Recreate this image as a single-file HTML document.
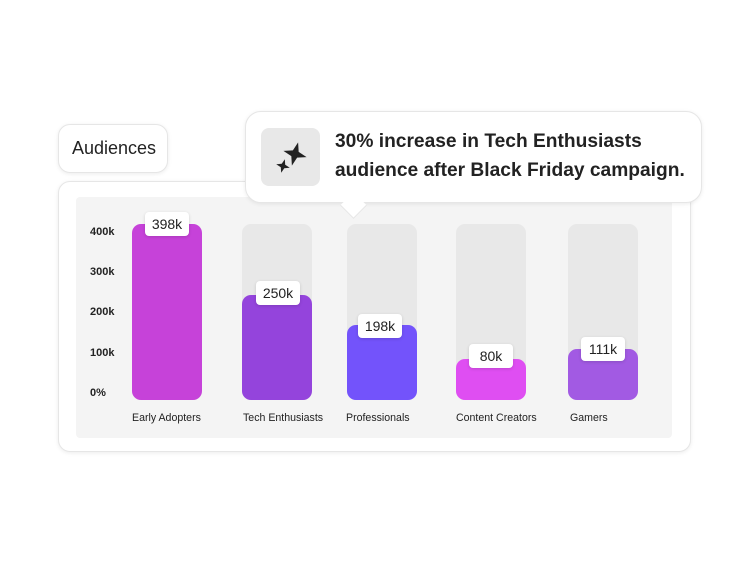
<!DOCTYPE html>
<html><head><style>
body{margin:0;width:750px;height:563px;background:#fff;position:relative;font-family:"Liberation Sans",sans-serif;overflow:hidden}
.a{position:absolute}
.card{border:1px solid #e6e6e6;box-shadow:0 1px 4px rgba(0,0,0,.08);background:#fff}
.track{position:absolute;width:70px;top:224px;height:176px;background:#e8e8e8;border-radius:9px}
.bar{position:absolute;width:70px;bottom:163px;border-radius:9px}
.lbl{position:absolute;width:44px;height:24px;background:#fff;border-radius:4px;box-shadow:0 1px 3px rgba(0,0,0,.15);font-size:14px;line-height:24px;text-align:center;color:#222}
.y{position:absolute;left:90px;font-size:11px;color:#222;font-weight:bold}
.x{position:absolute;top:412px;font-size:10.6px;color:#222}
</style></head><body>
<div class="a card" style="left:58px;top:124px;width:108px;height:47px;border-radius:12px"></div>
<div class="a" style="left:72px;top:138px;font-size:18px;color:#222">Audiences</div>
<div class="a card" style="left:58px;top:181px;width:631px;height:269px;border-radius:12px"></div>
<div class="a" style="left:76px;top:197px;width:596px;height:241px;background:#f4f4f4;border-radius:4px"></div>
<div class="y" style="top:226px">400k</div>
<div class="y" style="top:266px">300k</div>
<div class="y" style="top:306px">200k</div>
<div class="y" style="top:347px">100k</div>
<div class="y" style="top:387px">0%</div>
<div class="track" style="left:132px"></div><div class="bar" style="left:132px;top:224px;background:#c642d9"></div>
<div class="track" style="left:242px"></div><div class="bar" style="left:242px;top:295px;background:#9444dc"></div>
<div class="track" style="left:347px"></div><div class="bar" style="left:347px;top:325px;background:#7353fb"></div>
<div class="track" style="left:456px"></div><div class="bar" style="left:456px;top:359px;background:#df4ef2"></div>
<div class="track" style="left:568px"></div><div class="bar" style="left:568px;top:349px;background:#a25ae3"></div>
<div class="lbl" style="left:145px;top:212px">398k</div>
<div class="lbl" style="left:256px;top:281px">250k</div>
<div class="lbl" style="left:358px;top:314px">198k</div>
<div class="lbl" style="left:469px;top:344px">80k</div>
<div class="lbl" style="left:581px;top:337px">111k</div>
<div class="x" style="left:132px">Early Adopters</div>
<div class="x" style="left:243px">Tech Enthusiasts</div>
<div class="x" style="left:346px">Professionals</div>
<div class="x" style="left:456px">Content Creators</div>
<div class="x" style="left:570px">Gamers</div>
<div class="a card" style="left:245px;top:111px;width:455px;height:90px;border-radius:16px"></div>
<div class="a" style="left:344px;top:196px;width:18px;height:18px;background:#fff;transform:rotate(45deg);border-right:1px solid #e6e6e6;border-bottom:1px solid #e6e6e6"></div>
<div class="a" style="left:261px;top:128px;width:59px;height:58px;background:#e8e8e8;border-radius:8px"></div>
<svg class="a" style="left:261px;top:128px" width="59" height="58"><path d="M34 14 L37 23 L46 26 L37 29 L34 38 L31 29 L22 26 L31 23Z" fill="#222" transform="rotate(15 34 26)"/><path d="M22 31 L23.8 36.2 L29 38 L23.8 39.8 L22 45 L20.2 39.8 L15 38 L20.2 36.2Z" fill="#222" transform="rotate(15 22 38)"/></svg>
<div class="a" style="left:335px;top:127px;font-size:19.2px;line-height:29px;font-weight:bold;color:#222">30% increase in Tech Enthusiasts<br>audience after Black Friday campaign.</div>
</body></html>
